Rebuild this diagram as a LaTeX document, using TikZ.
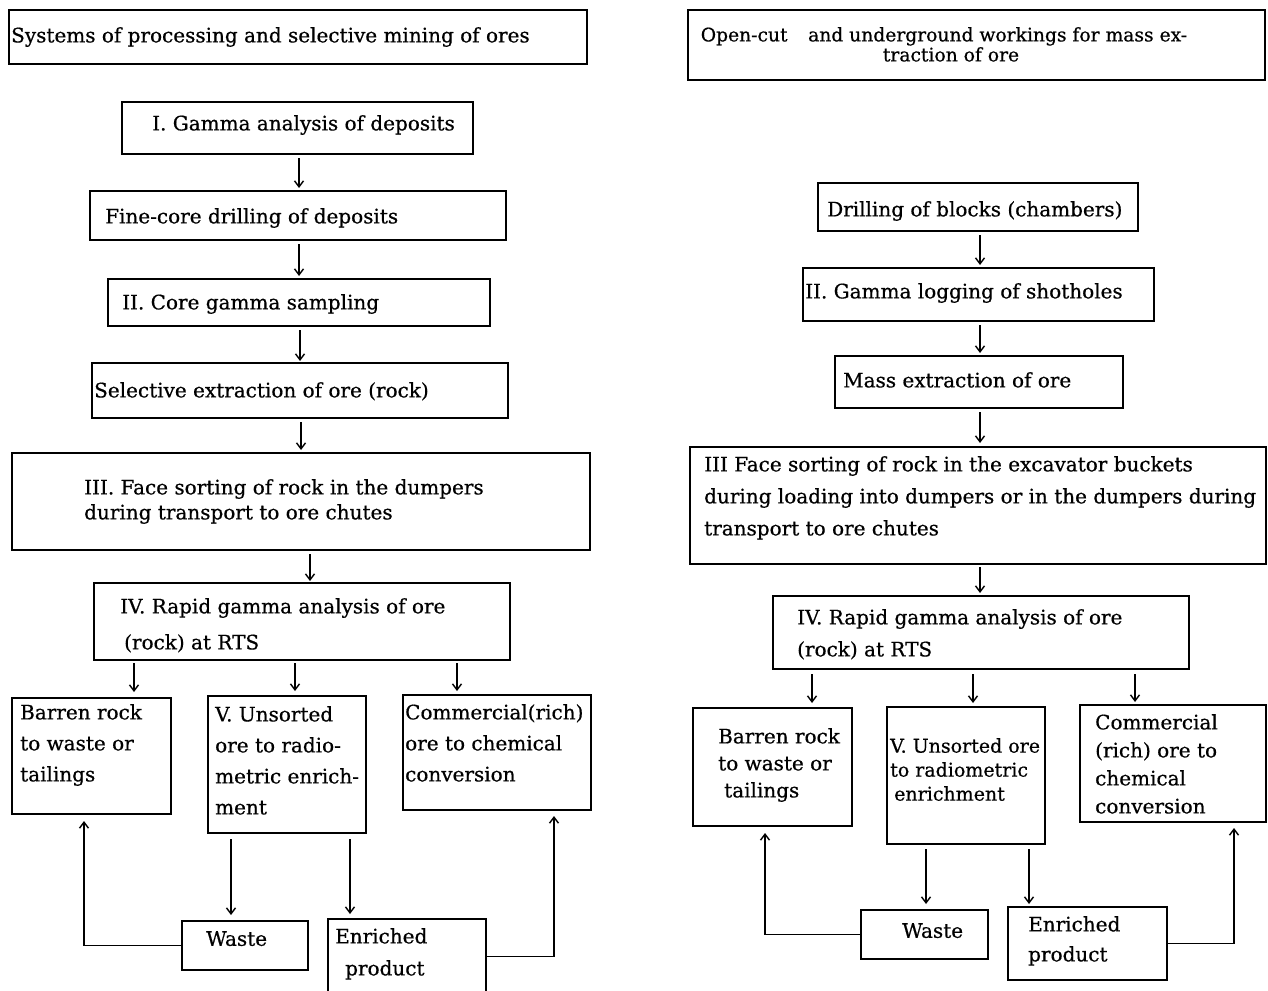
\documentclass[tikz,border=0pt]{standalone}
\usepackage{fontspec}
\setmainfont{DejaVu Serif}[FakeBold=0.6]
\usetikzlibrary{arrows.meta}
\tikzset{
  box/.style={draw, line width=2pt, inner sep=0pt},
  txt/.style={anchor=north west, inner sep=0pt, align=left},
  arr/.style={-{Straight Barb[length=6pt,width=9pt]}, line width=1.4pt},
}
\newcommand\bx[5]{\node[box, minimum width={(#4-#2)*1pt}, minimum height={(#5-#3)*1pt}] (#1) at ({(#2+#4)/2},{(#3+#5)/2}) {};}
\newcommand\tx[5]{\node[txt, font=\fontsize{20}{#4}\selectfont] (#1) at (#2,#3-9) {#5};}
\begin{document}
\begin{tikzpicture}[x=1pt,y=-1pt]
\useasboundingbox (0,0) rectangle (1268,990);
% ---------------- left column ----------------
\bx{LT}{9}{10}{587}{64}
\tx{tLT}{11}{36}{22}{Systems of processing and selective mining of ores}
\bx{L1}{122}{102}{473}{154}
\tx{tL1}{152}{124}{22}{I. Gamma analysis of deposits}
\bx{L2}{90}{191}{506}{240}
\tx{tL2}{105}{217}{22}{Fine-core drilling of deposits}
\bx{L3}{108}{279}{490}{326}
\tx{tL3}{122}{303}{22}{II. Core gamma sampling}
\bx{L4}{92}{363}{508}{418}
\tx{tL4}{94}{391}{22}{Selective extraction of ore (rock)}
\bx{L5}{12}{453}{590}{550}
\tx{tL5}{84}{488}{25}{III. Face sorting of rock in the dumpers\\during transport to ore chutes}
\bx{L6}{94}{583}{510}{660}
\tx{tL6}{120}{607}{36}{IV. Rapid gamma analysis of ore\\\hspace*{4pt}(rock) at RTS}
\bx{LB}{12}{698}{171}{814}
\tx{tLB}{20}{713}{31}{Barren rock\\to waste or\\tailings}
\bx{LV}{208}{696}{366}{833}
\tx{tLV}{215}{715}{31}{V. Unsorted\\ore to radio-\\metric enrich-\\ment}
\bx{LC}{403}{695}{591}{810}
\tx{tLC}{405}{713}{31}{Commercial(rich)\\ore to chemical\\conversion}
\bx{LW}{182}{921}{308}{970}
\tx{tLW}{206}{940}{22}{Waste}
\bx{LE}{328}{919}{486}{994}
\tx{tLE}{335}{937}{32}{Enriched\\\hspace*{10pt}product}
\draw[arr, shorten <=3pt, shorten >=2pt] (L1.south -| 299,0) -- (L2.north -| 299,0);
\draw[arr, shorten <=3pt, shorten >=2pt] (L2.south -| 299,0) -- (L3.north -| 299,0);
\draw[arr, shorten <=3pt, shorten >=1pt] (L3.south -| 300,0) -- (L4.north -| 300,0);
\draw[arr, shorten <=3pt, shorten >=2pt] (L4.south -| 301,0) -- (L5.north -| 301,0);
\draw[arr, shorten <=3pt, shorten >=1pt] (L5.south -| 310,0) -- (L6.north -| 310,0);
\draw[arr, shorten <=2pt, shorten >=5pt] (L6.south -| 134,0) -- (LB.north -| 134,0);
\draw[arr, shorten <=2pt, shorten >=4pt] (L6.south -| 295,0) -- (LV.north -| 295,0);
\draw[arr, shorten <=2pt, shorten >=3pt] (L6.south -| 457,0) -- (LC.north -| 457,0);
\draw[arr, shorten <=5pt, shorten >=5pt] (LV.south -| 231,0) -- (LW.north -| 231,0);
\draw[arr, shorten <=5pt, shorten >=4pt] (LV.south -| 350,0) -- (LE.north -| 350,0);
\draw[arr, shorten >=6pt] (LW.west) -| ([xshift=-7.5pt]LB.south);
\draw[arr, shorten >=5pt] (LE.east) -| ([xshift=57pt]LC.south);
% ---------------- right column ----------------
\bx{RT}{688}{10}{1265}{80}
\node[anchor=north, inner sep=0pt, align=center, font=\fontsize{18.7}{20}\selectfont] (tRT) at (944,27) {Open-cut\hspace{1.1em}and underground workings for mass ex-\\\hspace*{14pt}traction of ore};
\bx{R1}{818}{183}{1138}{231}
\tx{tR1}{827}{210}{22}{Drilling of blocks (chambers)}
\bx{R2}{803}{268}{1154}{321}
\tx{tR2}{805}{292}{22}{II. Gamma logging of shotholes}
\bx{R3}{835}{356}{1123}{408}
\tx{tR3}{843}{381}{22}{Mass extraction of ore}
\bx{R4}{690}{447}{1266}{564}
\tx{tR4}{704}{465}{32}{III Face sorting of rock in the excavator buckets\\during loading into dumpers or in the dumpers during\\transport to ore chutes}
\bx{R5}{773}{596}{1189}{669}
\tx{tR5}{797}{618}{32}{IV. Rapid gamma analysis of ore\\(rock) at RTS}
\bx{RB}{693}{708}{852}{826}
\tx{tRB}{718}{737}{27}{Barren rock\\to waste or\\\hspace*{6pt}tailings}
\bx{RV}{887}{707}{1045}{844}
\node[txt, font=\fontsize{19}{24}\selectfont] (tRV) at (890,747-9) {V. Unsorted ore\\to radiometric\\\hspace*{4pt}enrichment};
\bx{RC}{1080}{705}{1266}{822}
\tx{tRC}{1095}{723}{28}{Commercial\\(rich) ore to\\chemical\\conversion}
\bx{RW}{861}{910}{988}{959}
\tx{tRW}{902}{932}{22}{Waste}
\bx{RE}{1008}{907}{1167}{980}
\tx{tRE}{1028}{925}{30}{Enriched\\product}
\draw[arr, shorten <=3pt, shorten >=2pt] (R1.south -| 980,0) -- (R2.north -| 980,0);
\draw[arr, shorten <=3pt, shorten >=2pt] (R2.south -| 980,0) -- (R3.north -| 980,0);
\draw[arr, shorten <=3pt, shorten >=3pt] (R3.south -| 980,0) -- (R4.north -| 980,0);
\draw[arr, shorten <=2pt, shorten >=2pt] (R4.south -| 980,0) -- (R5.north -| 980,0);
\draw[arr, shorten <=4pt, shorten >=4pt] (R5.south -| 812,0) -- (RB.north -| 812,0);
\draw[arr, shorten <=4pt, shorten >=3pt] (R5.south -| 973,0) -- (RV.north -| 973,0);
\draw[arr, shorten <=4pt, shorten >=2pt] (R5.south -| 1135,0) -- (RC.north -| 1135,0);
\draw[arr, shorten <=4pt, shorten >=5pt] (RV.south -| 926,0) -- (RW.north -| 926,0);
\draw[arr, shorten <=4pt, shorten >=2pt] (RV.south -| 1029,0) -- (RE.north -| 1029,0);
\draw[arr, shorten >=6pt] (RW.west) -| ([xshift=-7.5pt]RB.south);
\draw[arr, shorten >=5pt] (RE.east) -| ([xshift=61pt]RC.south);
\end{tikzpicture}
\end{document}
